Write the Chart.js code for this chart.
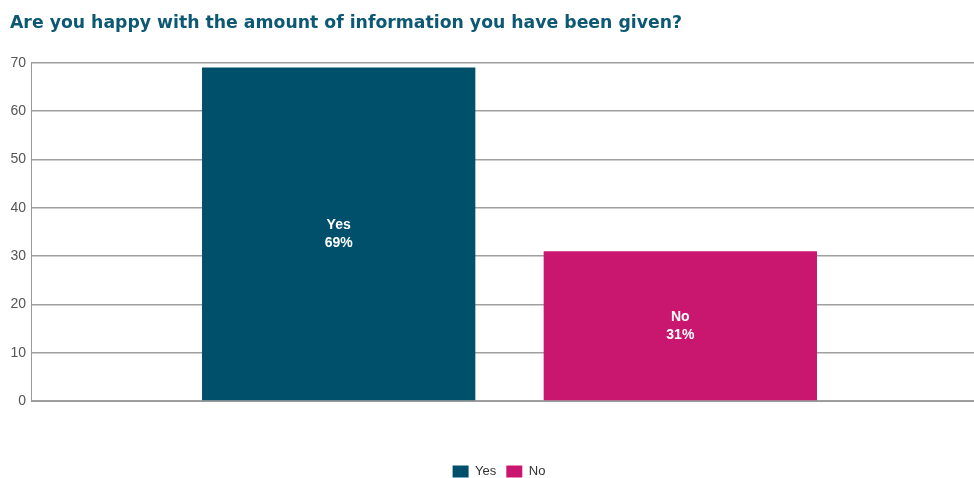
<!DOCTYPE html>
<html>
<head>
<meta charset="utf-8">
<script src="https://cdn.jsdelivr.net/npm/chart.js@4/dist/chart.umd.min.js"></script>
<style>
  body { margin: 0; background: #fff; overflow: hidden; }
  #wrap { width: 974px; height: 478px; overflow: hidden; }
</style>
</head>
<body>
<div id="wrap"><canvas id="barChart" width="988" height="478"></canvas></div>
<script>
const categories = [""];
const answers = ["Yes", "No"];
const percentValues = [69, 31];
const barColors = ["#00506b", "#c9176f"];
const yTicks = [0, 10, 20, 30, 40, 50, 60, 70];

// white "Yes / 69%" text in the middle of each bar
const barLabels = {
    id: "barLabels",
    afterDatasetsDraw(chart) {
        const ctx = chart.ctx;
        ctx.save();
        ctx.fillStyle = "#fff";
        ctx.font = "bold 14px 'Liberation Sans', Arial, sans-serif";
        ctx.textAlign = "center";
        ctx.textBaseline = "middle";
        chart.data.datasets.forEach((ds, i) => {
            const bar = chart.getDatasetMeta(i).data[0];
            const mid = (bar.y + bar.base) / 2;
            ctx.fillText(ds.label, bar.x, mid - 9);
            ctx.fillText(ds.data[0] + "%", bar.x, mid + 9);
        });
        ctx.restore();
    }
};

const CHART = document.getElementById("barChart");
let barChart = new Chart(CHART, {
    type: "bar",
    data: {
        labels: categories,
        datasets: answers.map((a, i) => ({
            label: a,
            data: [percentValues[i]],
            backgroundColor: barColors[i],
            borderWidth: 0,
            categoryPercentage: 0.714,
            barPercentage: 0.8
        }))
    },
    options: {
        responsive: false,
        animation: false,
        layout: { padding: { left: 10, right: 0, bottom: -10 } },
        plugins: {
            title: {
                display: true,
                text: "Are you happy with the amount of information you have been given?",
                align: "start",
                color: "#0d5873",
                font: { family: "'DejaVu Sans', sans-serif", size: 17.3, weight: "bold" },
                padding: { top: 13, bottom: 29 }
            },
            legend: {
                position: "bottom",
                labels: {
                    boxWidth: 16,
                    boxHeight: 12,
                    color: "#333",
                    font: { family: "'Liberation Sans', Arial, sans-serif", size: 13 }
                }
            },
            tooltip: { enabled: false }
        },
        scales: {
            x: {
                grid: { display: false },
                border: { color: "#999", width: 1 },
                ticks: { display: false },
                afterFit(s) { s.height = 54; }
            },
            y: {
                min: 0,
                max: 70,
                afterBuildTicks(s) { s.ticks = yTicks.map(v => ({ value: v })); },
                afterFit(s) { s.width = 21; },
                grid: { color: "#a0a0a0", lineWidth: 1.5, drawTicks: false },
                border: { color: "#999", width: 1 },
                ticks: {
                    color: "#555",
                    padding: 5,
                    font: { family: "'Liberation Sans', Arial, sans-serif", size: 14 }
                }
            }
        }
    },
    plugins: [barLabels]
});
</script>
</body>
</html>
